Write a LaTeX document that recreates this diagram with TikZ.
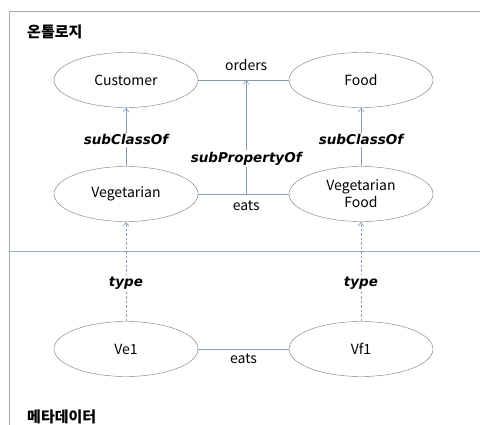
\documentclass[tikz,border=0pt]{standalone}
\usepackage{fontspec}
\setmainfont{Noto Sans CJK KR}
\newfontfamily\lblfont{DejaVu Sans}
\usetikzlibrary{shapes.geometric,arrows.meta}
\definecolor{conn}{RGB}{135,155,180}
\definecolor{frame}{RGB}{165,170,178}
\definecolor{sep}{RGB}{150,170,192}
\definecolor{ell}{RGB}{120,120,120}
\begin{document}
\begin{tikzpicture}[x=1pt,y=-1pt,
  cls/.style={draw=ell,ellipse,minimum width=144pt,minimum height=55pt,inner sep=0pt,font=\fontsize{14}{17}\selectfont,align=center},
  rel/.style={draw=conn,line width=0.6pt},
  sub/.style={draw=conn,line width=0.6pt,-{Straight Barb[length=4pt,width=6pt]}},
  inst/.style={sub,dashed,dash pattern=on 2.5pt off 2pt},
  lbl/.style={font=\lblfont\bfseries\itshape\fontsize{13.5}{14}\selectfont,fill=white,inner sep=2pt},
  rlbl/.style={font=\fontsize{14}{15}\selectfont,inner sep=1pt},
  ttl/.style={font=\bfseries\fontsize{15}{16}\selectfont,anchor=west,inner sep=0pt}]
\useasboundingbox (0,0) rectangle (480,425);
\fill[white] (0,0) rectangle (480,425);
% frame
\coordinate (ftl) at (9,11);
\coordinate (ftr) at (481,11);
\coordinate (fbl) at (9,426);
\coordinate (sl) at (9,251);
\coordinate (sr) at (481,251);
\draw[frame,line width=0.8pt] (ftr) -- (ftl) -- (fbl);
\draw[sep,line width=0.8pt] (sl) -- (sr);
\node[ttl] (t1) at (27,32) {온톨로지};
\node[ttl] (t2) at (27,417) {메타데이터};
% nodes
\node[cls] (cust) at (126,80) {Customer};
\node[cls] (food) at (361,80) {Food};
\node[cls] (veg) at (126,194) {Vegetarian};
\node[cls] (vfood) at (361,194) {Vegetarian\\Food};
\node[cls] (ve1) at (126,349) {Ve1};
\node[cls] (vf1) at (361,349) {Vf1};
% relations
\draw[rel] (cust) -- coordinate[pos=0.53] (om) (food);
\node[rlbl] (orders) at ([yshift=15pt]om) {orders};
\draw[rel] (veg) -- coordinate[pos=0.53] (em) (vfood);
\node[rlbl] (eats1) at ([yshift=-12pt]em) {eats};
\draw[rel] (ve1) -- coordinate[pos=0.5] (em2) (vf1);
\node[rlbl] (eats2) at ([yshift=-10pt]em2) {eats};
% subclass
\draw[sub] (veg) -- node[lbl,pos=0.45] (sc1) {subClassOf} (cust);
\draw[sub] (vfood) -- node[lbl,pos=0.45] (sc2) {subClassOf} (food);
\draw[sub] (em) -- node[lbl,pos=0.31] (sp) {subPropertyOf} (om);
% type
\draw[inst] (ve1) -- node[lbl,pos=0.38] (ty1) {type} (veg);
\draw[inst] (vf1) -- node[lbl,pos=0.38] (ty2) {type} (vfood);
\end{tikzpicture}
\end{document}
